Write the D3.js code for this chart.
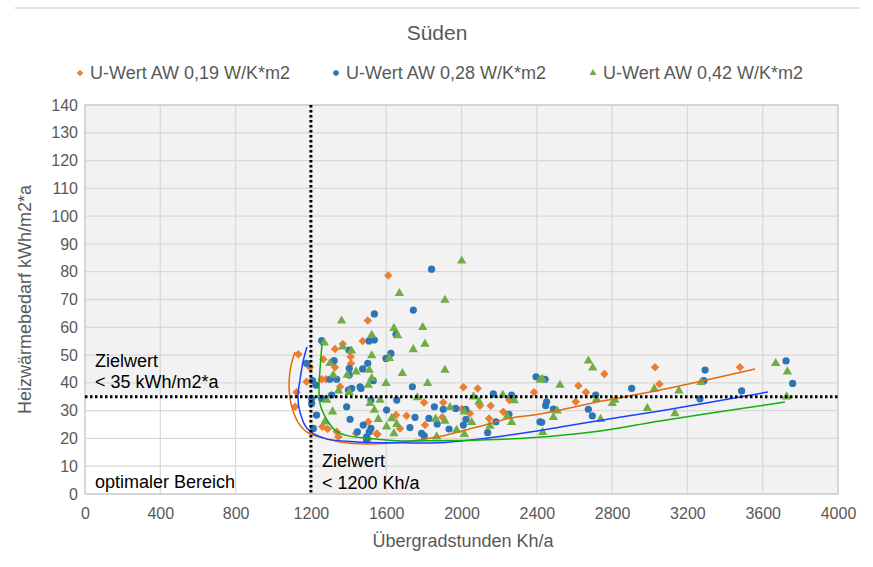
<!DOCTYPE html>
<html>
<head>
<meta charset="utf-8">
<script src="https://cdn.jsdelivr.net/npm/d3@7"></script>
<style>
  body { margin: 0; background: #fff; }
  text { font-family: "Liberation Sans", Arial, sans-serif; }
</style>
</head>
<body>
<div id="chart"></div>
<script>
const width = 873
const height = 567

// Series: [Übergradstunden, Heizwärmebedarf]
const seriesNames = ['U-Wert AW 0,19 W/K*m2', 'U-Wert AW 0,28 W/K*m2', 'U-Wert AW 0,42 W/K*m2']

const orangePoints = [
    [1133, 50.3], [1195, 45.6], [1177, 40.4], [1124, 36.6], [1116, 31.4],
    [1266, 48.5], [1328, 52.2], [1369, 54.0], [1411, 49.4], [1413, 47.0], [1328, 45.6], [1475, 55.1], [1502, 62.4], [1611, 78.6],
    [1257, 41.3], [1280, 41.3], [1355, 38.6],
    [1652, 28.4], [1708, 28.2], [1505, 26.0], [1261, 24.2], [1289, 23.4], [1337, 22.4], [1440, 21.8], [1553, 21.5],
    [1673, 23.6], [1505, 19.8], [1346, 20.6], [1549, 21.7],
    [1801, 32.9], [1903, 32.9], [2010, 38.4], [2086, 38.0], [2098, 31.8], [2254, 33.8], [2155, 31.8], [2385, 36.6],
    [2001, 30.6], [2045, 29.0], [1898, 27.6], [1806, 24.8], [2146, 27.2], [2222, 29.6],
    [2759, 43.2], [2621, 39.0], [2661, 36.6], [2607, 33.2], [3028, 45.6], [3051, 39.6], [3479, 45.6]
]

const bluePoints = [
    [1841, 80.9], [1537, 64.8], [1744, 66.2], [1652, 57.5], [1509, 55.1], [1537, 55.4], [1257, 55.2], [1402, 51.8],
    [1599, 48.8], [1625, 50.6], [1323, 48.0], [1177, 47.0], [1502, 47.0], [1404, 45.2], [1475, 45.0],
    [1404, 42.8], [1531, 40.8], [1301, 41.3], [1337, 41.3], [1417, 38.0], [1461, 38.6], [1209, 40.8], [1227, 39.2],
    [1204, 34.4], [1257, 34.4], [1310, 35.6], [1399, 37.4], [1466, 38.0], [1519, 33.8], [1656, 33.8], [1390, 31.4],
    [1602, 30.2], [1408, 26.9], [1478, 24.8], [1213, 23.6], [1519, 23.6], [1510, 22.4], [1726, 23.9], [1230, 28.4],
    [1204, 32.6], [1447, 22.4], [1496, 20.6], [1496, 19.4],
    [1739, 38.6], [1856, 31.4], [1903, 30.5], [1969, 30.8], [2169, 36.0], [2266, 35.6], [2396, 42.2], [2022, 30.5],
    [2024, 26.9], [2010, 24.8], [1871, 25.2], [1827, 27.2], [1753, 27.6], [1934, 23.4], [1788, 21.8], [1802, 20.9],
    [2139, 22.1], [2183, 26.0], [2252, 28.7], [2417, 26.0],
    [2444, 41.3], [2713, 35.6], [2452, 33.2], [2447, 31.8], [2488, 30.6], [2674, 30.5], [2695, 28.1], [2426, 25.8],
    [2904, 38.0], [3294, 44.6], [3288, 40.8], [3267, 34.2], [3488, 37.1], [3724, 47.9], [3759, 39.8]
]

const greenPoints = [
    [2001, 83.9], [1670, 72.2], [1912, 69.8], [1363, 62.3], [1641, 59.6], [1794, 60.0], [1661, 57.0], [1523, 57.2],
    [1806, 54.0], [1271, 54.4], [1369, 53.0], [1416, 51.5], [1523, 49.8], [1617, 48.8], [1301, 47.0], [1686, 43.4],
    [1912, 44.6], [1440, 44.0], [1393, 42.8], [1510, 44.6], [1744, 52.0],
    [1319, 42.8], [1523, 41.6], [1599, 39.8], [1284, 33.8], [1346, 37.1], [1404, 36.6], [1505, 39.2], [1514, 32.6],
    [1567, 33.8], [1315, 29.6], [1537, 30.2], [1558, 26.9], [1629, 27.2], [1602, 24.2], [1656, 25.1], [1641, 21.8], [1275, 26.0],
    [1820, 39.8], [1765, 34.7], [1939, 31.2], [2063, 35.0], [2093, 33.2], [2219, 35.6], [2280, 33.6], [2417, 41.0],
    [2015, 29.6], [2054, 25.8], [2015, 21.5], [1912, 26.3], [1863, 27.0], [1974, 23.0], [1868, 20.6], [2151, 24.5],
    [2243, 28.1], [2266, 25.8],
    [2429, 41.3], [2523, 39.2], [2674, 47.9], [2697, 45.4], [2718, 34.1], [2509, 29.9], [2488, 27.6], [2739, 26.9],
    [2431, 22.2], [2801, 32.6], [2815, 33.8], [3024, 37.8], [2987, 30.8], [3155, 37.1], [3134, 29.0], [3272, 40.2],
    [3669, 47.0], [3731, 44.0], [3727, 35.0]
]

// Trend curves
const orangeTrend = [
    [1115, 51.1], [1094, 46.0], [1084, 40.3], [1089, 34.5], [1105, 29.9], [1131, 25.9], [1179, 22.3], [1264, 20.2],
    [1355, 18.7], [1498, 18.0], [1689, 18.7], [1870, 20.5], [2082, 24.1], [2258, 27.3], [2417, 28.8], [2720, 33.1],
    [3054, 37.4], [3559, 45.0]
]
const blueTrend = [
    [1179, 52.9], [1158, 47.5], [1142, 41.0], [1131, 34.9], [1142, 29.5], [1179, 23.7], [1264, 20.2], [1445, 18.7],
    [1689, 18.4], [1870, 18.4], [2098, 19.8], [2364, 22.3], [2720, 26.3], [3054, 29.9], [3628, 36.7]
]
const greenTrend = [
    [1259, 54.0], [1248, 44.6], [1243, 38.5], [1248, 32.7], [1259, 30.2], [1286, 26.6], [1330, 22.8], [1392, 21.0],
    [1514, 20.0], [1689, 19.1], [1870, 19.2], [2098, 19.4], [2364, 20.2], [2736, 22.7], [3054, 26.3], [3718, 33.1]
]

const xTicks = [0, 400, 800, 1200, 1600, 2000, 2400, 2800, 3200, 3600, 4000]
const yTicks = [0, 10, 20, 30, 40, 50, 60, 70, 80, 90, 100, 110, 120, 130, 140]
const targetHeat = 35
const targetHours = 1200

const markerColors = ['#ED7D31', '#2E75B6', '#70AD47']
const trendColors = ['#E46C0A', '#1F3FFF', '#10B010']

const svg = d3.select('#chart')
    .append('svg')
    .attr('width', width)
    .attr('height', height)

const xScale = d3.scaleLinear().domain([0, 4000]).range([85, 838])
const yScale = d3.scaleLinear().domain([0, 140]).range([494, 105])

// top rule
svg.append('line')
    .attr('x1', 15).attr('x2', 860).attr('y1', 8).attr('y2', 8)
    .attr('stroke', '#d9d9d9').attr('stroke-width', 1.5)

// Plot background, white "optimal" zone
svg.append('rect')
    .attr('x', xScale(0)).attr('y', yScale(140))
    .attr('width', xScale(4000) - xScale(0)).attr('height', yScale(0) - yScale(140))
    .attr('fill', '#f2f2f2')
svg.append('rect')
    .attr('x', xScale(0)).attr('y', yScale(targetHeat))
    .attr('width', xScale(targetHours) - xScale(0)).attr('height', yScale(0) - yScale(targetHeat))
    .attr('fill', '#ffffff')

// Gridlines
svg.append('g')
    .selectAll('line')
    .data(yTicks)
    .enter()
    .append('line')
    .attr('x1', xScale(0)).attr('x2', xScale(4000))
    .attr('y1', d => yScale(d)).attr('y2', d => yScale(d))
    .attr('stroke', '#d9d9d9').attr('stroke-width', 1.3)
svg.append('g')
    .selectAll('line')
    .data(xTicks)
    .enter()
    .append('line')
    .attr('x1', d => xScale(d)).attr('x2', d => xScale(d))
    .attr('y1', yScale(0)).attr('y2', yScale(140))
    .attr('stroke', '#d9d9d9').attr('stroke-width', 1.3)
svg.append('rect')
    .attr('x', xScale(0)).attr('y', yScale(140))
    .attr('width', xScale(4000) - xScale(0)).attr('height', yScale(0) - yScale(140))
    .attr('fill', 'none').attr('stroke', '#c8c8c8').attr('stroke-width', 1)

// Axes (labels only)
const xAxis = d3.axisBottom(xScale).tickValues(xTicks).tickFormat(d3.format('d')).tickSize(0).tickPadding(14)
svg.append('g')
    .attr('transform', `translate(0, ${yScale(0)})`)
    .call(xAxis)
    .call(g => g.select('.domain').remove())
    .selectAll('text')
    .attr('font-size', 16).attr('fill', '#595959')

const yAxis = d3.axisLeft(yScale).tickValues(yTicks).tickFormat(d3.format('d')).tickSize(0).tickPadding(7)
svg.append('g')
    .attr('transform', `translate(${xScale(0)}, 0)`)
    .call(yAxis)
    .call(g => g.select('.domain').remove())
    .selectAll('text')
    .attr('font-size', 16).attr('fill', '#595959')

// Markers
const diamond = d3.symbol().type(d3.symbolDiamond2).size(46)
const triangle = d3.symbol().type(d3.symbolTriangle).size(38)

svg.append('g')
    .selectAll('path')
    .data(orangePoints)
    .enter()
    .append('path')
    .attr('d', diamond)
    .attr('transform', d => `translate(${xScale(d[0])}, ${yScale(d[1])})`)
    .attr('fill', markerColors[0])

svg.append('g')
    .selectAll('circle')
    .data(bluePoints)
    .enter()
    .append('circle')
    .attr('cx', d => xScale(d[0]))
    .attr('cy', d => yScale(d[1]))
    .attr('r', 3.6)
    .attr('fill', markerColors[1])

svg.append('g')
    .selectAll('path')
    .data(greenPoints)
    .enter()
    .append('path')
    .attr('d', triangle)
    .attr('transform', d => `translate(${xScale(d[0])}, ${yScale(d[1])})`)
    .attr('fill', markerColors[2])

// Trend curves
const line = d3.line()
    .x(d => xScale(d[0]))
    .y(d => yScale(d[1]))
    .curve(d3.curveCatmullRom)

const trends = [orangeTrend, blueTrend, greenTrend]
trends.forEach((t, i) => {
    svg.append('path')
        .datum(t)
        .attr('d', line)
        .attr('fill', 'none')
        .attr('stroke', trendColors[i])
        .attr('stroke-width', 1.5)
})

// Target lines
svg.append('line')
    .attr('x1', xScale(0)).attr('x2', xScale(4000))
    .attr('y1', yScale(targetHeat)).attr('y2', yScale(targetHeat))
    .attr('stroke', '#000').attr('stroke-width', 3).attr('stroke-dasharray', '2.5,2.5')
svg.append('line')
    .attr('x1', xScale(targetHours)).attr('x2', xScale(targetHours))
    .attr('y1', yScale(140)).attr('y2', yScale(0))
    .attr('stroke', '#000').attr('stroke-width', 3).attr('stroke-dasharray', '2.5,2.5')

// Annotations
const notes = [
    { text: 'Zielwert', x: 95, y: 367 },
    { text: '< 35 kWh/m2*a', x: 95, y: 388 },
    { text: 'optimaler Bereich', x: 95, y: 488 },
    { text: 'Zielwert', x: 322, y: 467 },
    { text: '< 1200 Kh/a', x: 322, y: 489 }
]
svg.append('g')
    .selectAll('text')
    .data(notes)
    .enter()
    .append('text')
    .attr('x', d => d.x).attr('y', d => d.y)
    .attr('font-size', 18).attr('fill', '#000')
    .text(d => d.text)

// Title
svg.append('text')
    .attr('x', 437).attr('y', 40)
    .attr('text-anchor', 'middle')
    .attr('font-size', 21).attr('fill', '#595959')
    .text('Süden')

// Axis titles
svg.append('text')
    .attr('x', 463).attr('y', 547)
    .attr('text-anchor', 'middle')
    .attr('font-size', 18).attr('fill', '#595959')
    .text('Übergradstunden Kh/a')
svg.append('text')
    .attr('transform', `translate(31, ${(yScale(0) + yScale(140)) / 2}) rotate(-90)`)
    .attr('text-anchor', 'middle')
    .attr('font-size', 18).attr('fill', '#595959')
    .text('Heizwärmebedarf kWh/m2*a')

// Legend
const legendX = [80, 336, 593]
const legend = svg.append('g')
legend.append('path')
    .attr('d', d3.symbol().type(d3.symbolDiamond2).size(26))
    .attr('transform', `translate(${legendX[0]}, 73)`)
    .attr('fill', markerColors[0])
legend.append('circle')
    .attr('cx', legendX[1]).attr('cy', 73).attr('r', 2.8)
    .attr('fill', markerColors[1])
legend.append('path')
    .attr('d', d3.symbol().type(d3.symbolTriangle).size(22))
    .attr('transform', `translate(${legendX[2]}, 73)`)
    .attr('fill', markerColors[2])
legend.selectAll('text')
    .data(seriesNames)
    .enter()
    .append('text')
    .attr('x', (d, i) => legendX[i] + 10)
    .attr('y', 79)
    .attr('font-size', 18).attr('fill', '#595959')
    .text(d => d)
</script>
</body>
</html>
